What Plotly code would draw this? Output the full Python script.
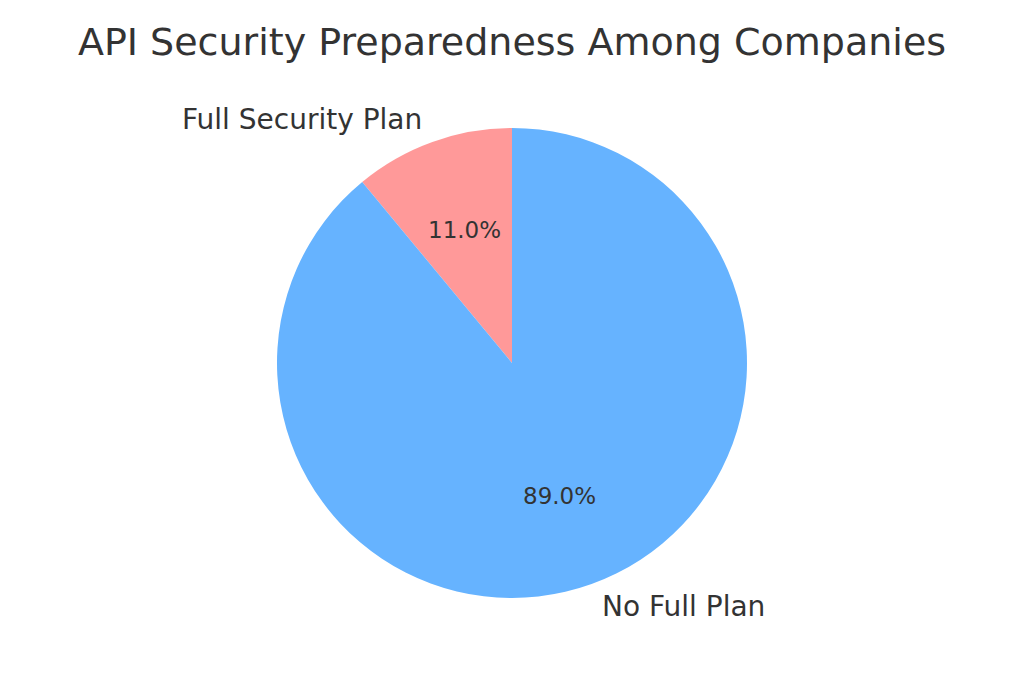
import math
import plotly.graph_objects as go

labels = ["Full Security Plan", "No Full Plan"]
values = [11, 89]
colors = ["#ff9999", "#66b3ff"]
title = "API Security Preparedness Among Companies"

W, H = 1024, 683
CX, CY, R = 512, 363, 235  # pie centre and radius in pixels
TXT = "#333333"
FONT = "DejaVu Sans"

total = sum(values)
# plotly places the first slice ending at `rotation` when counterclockwise;
# shift so the first slice starts at 12 o'clock and runs counterclockwise
rotation = -360 * values[0] / total

fig = go.Figure()
fig.add_trace(go.Pie(
    labels=labels, values=values, sort=False, direction="counterclockwise",
    rotation=rotation, marker=dict(colors=colors, line=dict(width=0)),
    textinfo="none", hoverinfo="label+percent", showlegend=False,
    domain=dict(x=[0, 1], y=[1 - (CY + R) / H, 1 - (CY - R) / H]),
))

cum = 0
annotations = []
for lab, v in zip(labels, values):
    mid = math.radians(90 + 360 * (cum + v / 2) / total)
    cum += v
    c, s = math.cos(mid), math.sin(mid)
    # outer label
    lx, ly = CX + 1.1 * R * c, CY - 1.1 * R * s
    annotations.append(dict(
        x=lx / W, y=1 - ly / H, xref="paper", yref="paper", text=lab,
        showarrow=False, xanchor="left" if c > 0 else "right", yanchor="middle",
        font=dict(family=FONT, size=28, color=TXT)))
    # percent label
    px, py = CX + 0.6 * R * c, CY - 0.6 * R * s
    annotations.append(dict(
        x=px / W, y=1 - py / H, xref="paper", yref="paper",
        text=f"{100 * v / total:.1f}%", showarrow=False,
        xanchor="center", yanchor="middle",
        font=dict(family=FONT, size=23, color=TXT)))

fig.update_layout(
    width=W, height=H, margin=dict(l=0, r=0, t=0, b=0),
    paper_bgcolor="white", plot_bgcolor="white",
    title=dict(text=title, x=0.5, xanchor="center", y=1 - 42 / H, yanchor="middle",
               font=dict(family=FONT, size=38, color=TXT)),
    annotations=annotations,
)
fig.write_html("out.html", config={"displayModeBar": False},
               post_script="document.body.style.margin='0';")
